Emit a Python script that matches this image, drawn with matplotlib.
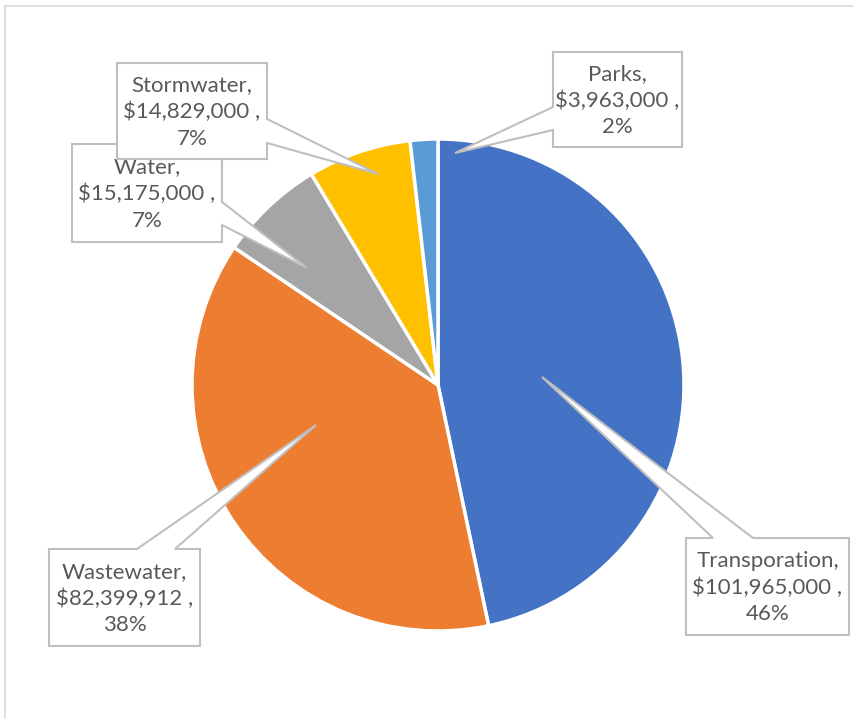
import matplotlib.pyplot as plt
from matplotlib.patches import Polygon
from matplotlib.lines import Line2D

categories = ['Transporation', 'Wastewater', 'Water', 'Stormwater', 'Parks']
amounts = [101965000, 82399912, 15175000, 14829000, 3963000]
pct_labels = ['46%', '38%', '7%', '7%', '2%']
colors = ['#4472C4', '#ED7D31', '#A5A5A5', '#FFC000', '#5B9BD5']

W, H = 854, 719

# callout layout in image pixels: box (x0, x1, y0, y1), side, base points, tip
callouts = {
    'Transporation': ((686, 849, 538, 635), 'top', (713, 753), (542, 377)),
    'Wastewater': ((49, 200, 549, 646), 'top', (137, 175), (316, 425)),
    'Water': ((72, 222, 144, 242), 'right', (202, 225), (307, 268)),
    'Stormwater': ((117, 267, 63, 159), 'right', (119, 143), (378, 174)),
    'Parks': ((553, 682, 52, 147), 'left', (107, 130), (455, 153)),
}
draw_order = ['Transporation', 'Wastewater', 'Water', 'Stormwater', 'Parks']

fig = plt.figure(figsize=(W / 100, H / 100), dpi=100, facecolor='white')
ax = fig.add_axes([0, 0, 1, 1])

ax.pie(amounts, colors=colors, startangle=90, counterclock=False,
       center=(438, H - 385), radius=246,
       wedgeprops=dict(edgecolor='white', linewidth=2.5))
ax.set_aspect('auto')
ax.set_xlim(0, W)
ax.set_ylim(0, H)
ax.axis('off')


def fy(y):
    return H - y


for i, name in enumerate(draw_order):
    k = categories.index(name)
    (x0, x1, y0, y1), side, (a, b), (tx, ty) = callouts[name]
    if side == 'top':
        pts = [(x0, y0), (a, y0), (tx, ty), (b, y0), (x1, y0), (x1, y1), (x0, y1)]
    elif side == 'right':
        pts = [(x0, y0), (x1, y0), (x1, a), (tx, ty), (x1, b), (x1, y1), (x0, y1)]
    else:
        pts = [(x0, y0), (x1, y0), (x1, y1), (x0, y1), (x0, b), (tx, ty), (x0, a)]
    pts = [(px, fy(py)) for px, py in pts]
    z = 5 + 2 * i
    ax.add_patch(Polygon(pts, closed=True, facecolor='white', edgecolor='#BFBFBF',
                         linewidth=1.5, zorder=z))
    label = f'{name},\n${amounts[k]:,} ,\n{pct_labels[k]}'
    ax.text((x0 + x1) / 2, fy((y0 + y1) / 2) - 1, label, ha='center', va='center',
            fontsize=16, color='#595959', family='Lato', linespacing=1.4,
            zorder=z + 1)

# chart area border
fig.add_artist(Line2D([5 / W, 1], [1 - 6 / H, 1 - 6 / H], color='#D9D9D9', linewidth=1.2))
fig.add_artist(Line2D([5 / W, 5 / W], [0, 1 - 6 / H], color='#D9D9D9', linewidth=1.2))

fig.savefig('out.png', dpi=100, facecolor='white')
